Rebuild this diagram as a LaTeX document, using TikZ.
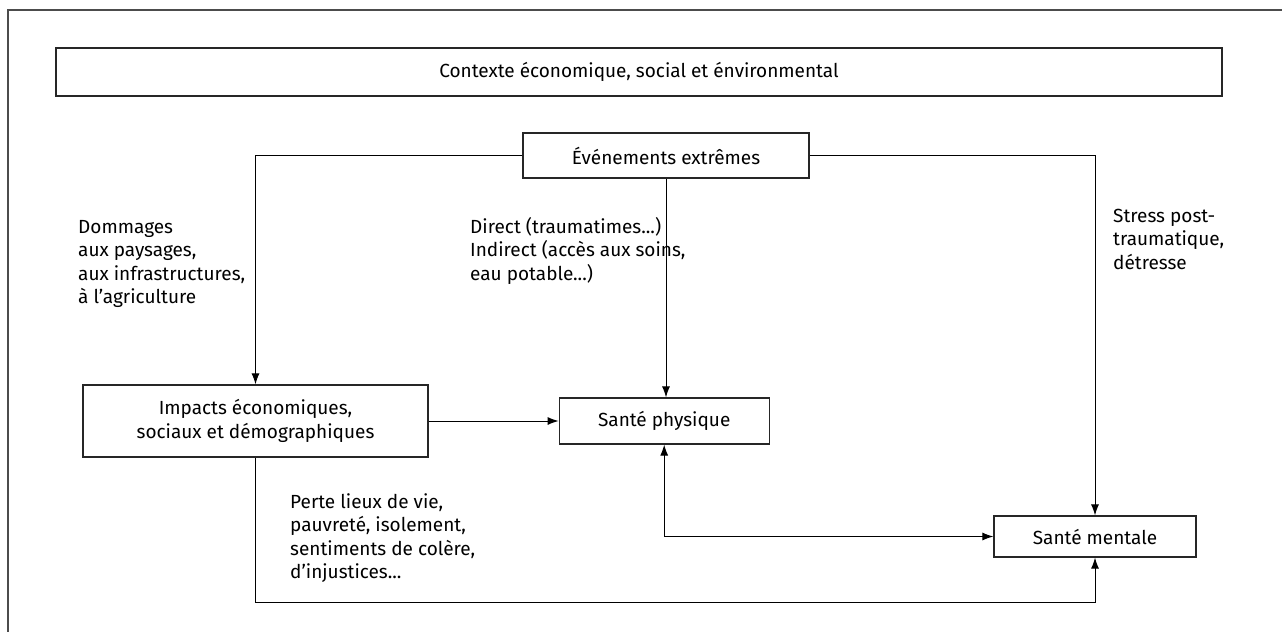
\documentclass[tikz,border=0pt]{standalone}
\usepackage{fontspec}
\setmainfont{Fira Sans}
\usetikzlibrary{arrows.meta,
                positioning}
\tikzset{block/.style=
   {rectangle,
    draw=black!85,
    line width=1.2pt,
    align=center,
    inner sep=0pt}}
\tikzset{comment/.style =
   {align=left,
    anchor=base west,
    inner sep=0pt}}
\tikzset{frame/.style = {draw=black!70, line width=1.5pt}}
\tikzset{arrow/.style = {draw, line width=1pt, -{Latex[length=11pt,width=8pt]}}}

\begin{document}
\begin{tikzpicture}[x=1pt, y=-1pt,
                    font=\fontsize{19pt}{23.5pt}\selectfont]

    \useasboundingbox (0,0) rectangle (1282,632);
    \draw [frame] (1282,10) -- (8,10) -- (8,632);

    \node [block,
           minimum width=1166pt,
           minimum height=48pt] (context) at (639,72)
    {Contexte économique, social et énvironmental};

    \node [block,
           minimum width=286pt,
           minimum height=45pt] (events) at (666,155.5)
    {Événements extrêmes};

    \node [block,
           minimum width=345pt,
           minimum height=72pt] (impacts) at (255.5,421)
    {Impacts économiques,\\sociaux et démographiques};

    \node [block,
           minimum width=210pt,
           minimum height=46pt,
           right = 130pt of impacts] (physique)
    {Santé physique};

    \node [block,
           minimum width=202pt,
           minimum height=41pt] (mentale) at (1095,536.5)
    {Santé mentale};

    \coordinate (bottomline) at (0,602);

    % liens
    \draw [arrow] (events.west) -| (impacts.north);
    \draw [arrow] (events.south) -- (events.south |- physique.north);
    \draw [arrow] (events.east) -| (mentale.north);
    \draw [arrow] (impacts.east) -- (physique.west);
    \draw [arrow, {Latex[length=11pt,width=8pt]}-{Latex[length=11pt,width=8pt]}]
          (physique.south) |- (mentale.west);
    \draw [arrow] (impacts.south) |- (bottomline -| mentale.south)
                  -- (mentale.south);

    % textes (ancre = ligne de base de la derniere ligne)
    \node [comment] (dommages) at (78,303.5)
    {Dommages\\aux paysages,\\aux infrastructures,\\à l’agriculture};
    \node [comment] (direct) at (470,280)
    {Direct (traumatimes...)\\Indirect (accès aux soins,\\eau potable...)};
    \node [comment] (stress) at (1113,269)
    {Stress post-\\traumatique,\\détresse};
    \node [comment] (perte) at (290,578.5)
    {Perte lieux de vie,\\pauvreté, isolement,\\sentiments de colère,\\d’injustices...};

\end{tikzpicture}
\end{document}
